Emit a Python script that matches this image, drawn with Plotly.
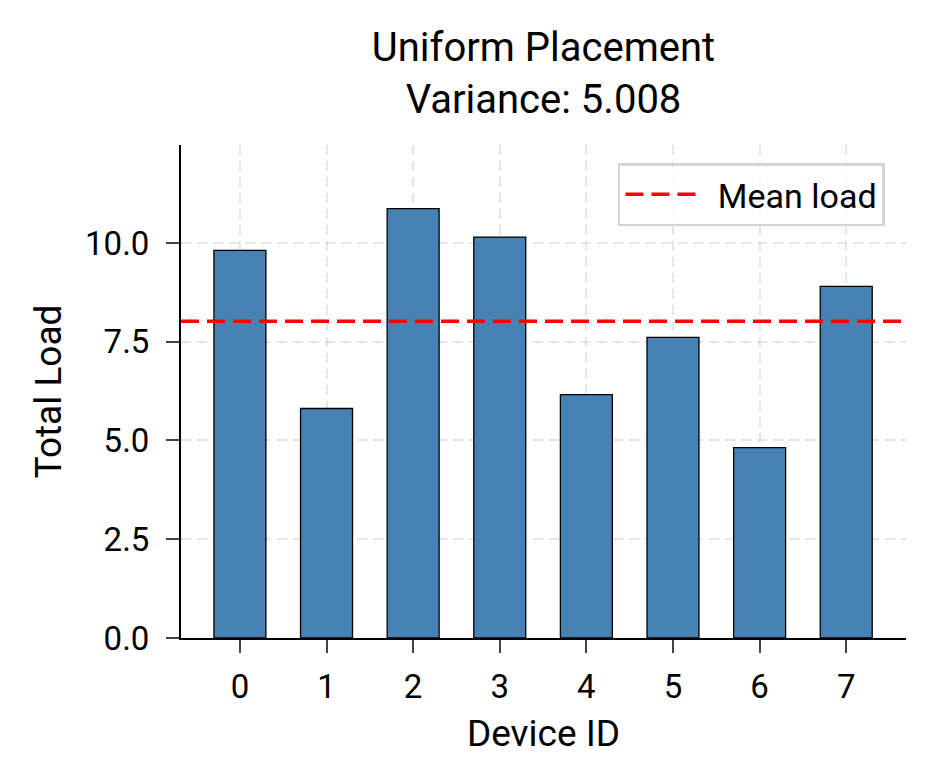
import numpy as np
import plotly.graph_objects as go

device_ids = [0, 1, 2, 3, 4, 5, 6, 7]
total_load = [9.81, 5.81, 10.87, 10.15, 6.16, 7.61, 4.82, 8.90]
title_lines = ["Uniform Placement", "Variance: 5.008"]
y_ticks = [0.0, 2.5, 5.0, 7.5, 10.0]

FONT = "Roboto"
mean_load = float(np.mean(total_load))

fig = go.Figure()
fig.add_trace(
    go.Bar(
        x=device_ids,
        y=total_load,
        width=0.6,
        marker=dict(color="#4682b4", line=dict(color="black", width=1.3)),
        showlegend=False,
    )
)
fig.add_hline(
    y=mean_load,
    line=dict(color="red", width=3.5, dash="18px,8px"),
    showlegend=True,
    name="\u2002Mean load",
    layer="above",
)

grid = dict(
    showline=True,
    linecolor="black",
    linewidth=2,
    ticks="outside",
    ticklen=13,
    tickwidth=2,
    showgrid=True,
    gridcolor="rgba(200,200,200,0.45)",
    griddash="10px,6px",
    gridwidth=1.5,
    zeroline=False,
    layer="above traces",
    tickfont=dict(size=33),
)

fig.update_layout(
    width=934,
    height=784,
    paper_bgcolor="white",
    plot_bgcolor="white",
    margin=dict(l=173, r=36, t=137, b=154),
    font=dict(family=FONT, size=30, color="black"),
    title=dict(
        text="<br>".join(title_lines),
        x=0.5,
        xref="paper",
        xanchor="center",
        y=0.933,
        yref="container",
        yanchor="middle",
        font=dict(size=40),
    ),
    legend=dict(
        x=0.971,
        y=0.963,
        xanchor="right",
        yanchor="top",
        bgcolor="rgba(255,255,255,0.8)",
        bordercolor="#d4d4d4",
        borderwidth=2.5,
        font=dict(size=34),
        itemwidth=70,
    ),
)
fig.update_xaxes(
    range=[-0.68, 7.69],
    tickmode="array",
    tickvals=device_ids,
    ticktext=[str(d) for d in device_ids],
    title=dict(text="Device ID", font=dict(size=37), standoff=16),
    ticklabelstandoff=5,
    **grid,
)
fig.update_yaxes(
    range=[0, 12.48],
    tickmode="array",
    tickvals=y_ticks,
    ticktext=[f"{v:.1f}" for v in y_ticks],
    title=dict(text="Total Load", font=dict(size=37), standoff=12),
    ticklabelstandoff=10,
    **grid,
)

fig.write_html("out.html")
